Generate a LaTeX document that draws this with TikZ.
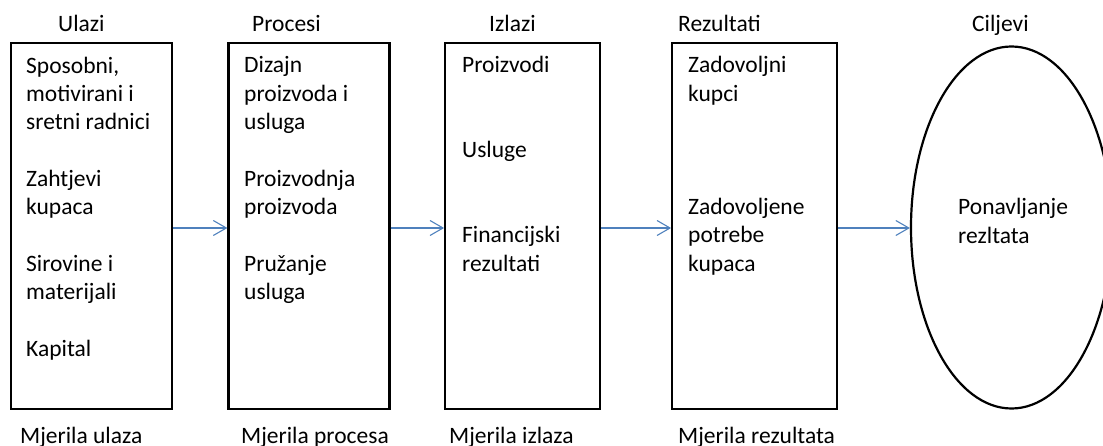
\documentclass[tikz,border=0pt]{standalone}
\usepackage{fontspec}
\setmainfont{Carlito}
\usetikzlibrary{arrows.meta,shapes.geometric}
\begin{document}
\begin{tikzpicture}[x=1pt,y=-1pt,
  every node/.style={font=\fontsize{23.5}{28.3}\selectfont},
  box/.style={draw=black,line width=2.2pt,inner sep=0pt,minimum height=366pt},
  oval/.style={ellipse,draw=black,line width=2.2pt,inner sep=0pt,minimum width=201pt,minimum height=362pt},
  txt/.style={anchor=base west,inner sep=0pt,align=left},
  conn/.style={draw={rgb,255:red,79;green,129;blue,189},line width=1.1pt,-{Straight Barb[length=13pt,width=15pt,line width=1.1pt]}}]
\useasboundingbox (0,0) rectangle (1103,446);
% boxes
\node[box,minimum width=161pt] (b1) at (91.5,226) {};
\node[box,minimum width=161pt] (b2) at (309,226) {};
\node[box,minimum width=155pt] (b3) at (522.7,226) {};
\node[box,minimum width=165pt] (b4) at (754.7,226) {};
\node[oval] (goal) at (1011.5,227.5) {};
% titles
\node[txt] (t1) at (58,32) {Ulazi};
\node[txt] (t2) at (252,32) {Procesi};
\node[txt] (t3) at (489,32) {Izlazi};
\node[txt] (t4) at (678,32) {Rezultati};
\node[txt] (t5) at (972,32) {Ciljevi};
% contents (anchored at the baseline of their last line)
\node[txt] (c1) at (26,356) {Sposobni,\\motivirani i\\sretni radnici\\[28.3pt]Zahtjevi\\kupaca\\[28.3pt]Sirovine i\\materijali\\[28.3pt]Kapital};
\node[txt] (c2) at (244,299.4) {Dizajn\\proizvoda i\\usluga\\[28.3pt]Proizvodnja\\proizvoda\\[28.3pt]Pružanje\\usluga};
\node[txt] (c3) at (462,271.1) {Proizvodi\\[56.6pt]Usluge\\[56.6pt]Financijski\\rezultati};
\node[txt] (c4) at (688,271.1) {Zadovoljni\\kupci\\[84.9pt]Zadovoljene\\potrebe\\kupaca};
\node[txt] (c5) at (958,243.3) {Ponavljanje\\rezltata};
% measures
\node[txt] (m1) at (20,443) {Mjerila ulaza};
\node[txt] (m2) at (241,443) {Mjerila procesa};
\node[txt] (m3) at (449,443) {Mjerila izlaza};
\node[txt] (m4) at (678,443) {Mjerila rezultata};
% connectors
\coordinate (axis) at (0,228);
\draw[conn] (b1.east |- axis) -- (b2.west |- axis);
\draw[conn] (b2.east |- axis) -- (b3.west |- axis);
\draw[conn] (b3.east |- axis) -- (b4.west |- axis);
\draw[conn] (b4.east |- axis) -- (goal.west |- axis);
\end{tikzpicture}
\end{document}
